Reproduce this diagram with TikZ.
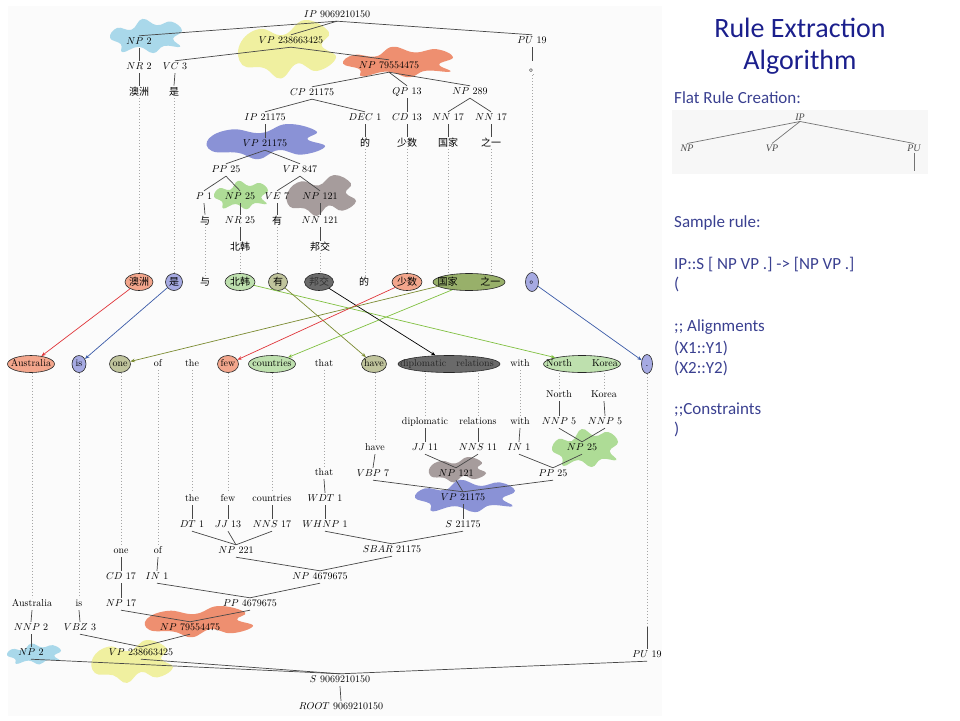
\documentclass[tikz,border=0pt]{standalone}
\usepackage{fontspec}
\newfontfamily\cjk{Noto Sans CJK SC}
\newfontfamily\calibri{Carlito}
\newfontfamily\tms{Liberation Serif}
\usetikzlibrary{arrows.meta,shapes.geometric}
\definecolor{bBlue}{HTML}{A9D8EA}
\definecolor{bYel}{HTML}{F0F0A0}
\definecolor{bOra}{HTML}{EE8F70}
\definecolor{bPur}{HTML}{8A92D6}
\definecolor{bGrn}{HTML}{AEDC96}
\definecolor{bGry}{HTML}{A69C9C}
\definecolor{fSal}{HTML}{F3A68C}
\definecolor{fBlu}{HTML}{A6AAE2}
\definecolor{fGrn}{HTML}{BEE0AE}
\definecolor{fOli}{HTML}{C0C49C}
\definecolor{fDrk}{HTML}{6A6A6A}
\definecolor{fOlg}{HTML}{98B06A}
\definecolor{aRed}{HTML}{E0353A}
\definecolor{aBlu}{HTML}{3A5AA8}
\definecolor{aGrn}{HTML}{80C040}
\definecolor{aOli}{HTML}{7A8A30}
\definecolor{ttl}{HTML}{1B1F8C}
\definecolor{txt}{HTML}{3A4090}
\newcommand\blobA[5]{\begin{scope}[shift={(#2,#3)},xscale=#4,yscale=#5]\fill[#1] plot[smooth cycle,tension=0.75] coordinates {(-1,0.1) (-0.8,-0.45) (-0.4,-0.35) (-0.1,-0.95) (0.3,-0.6) (0.7,-0.8) (1,-0.3) (0.75,0.15) (0.95,0.6) (0.5,0.55) (0.2,0.95) (-0.2,0.6) (-0.65,0.9) (-0.7,0.45)};\end{scope}}
\newcommand\blobB[5]{\begin{scope}[shift={(#2,#3)},xscale=#4,yscale=#5]\fill[#1] plot[smooth cycle,tension=0.75] coordinates {(-1,-0.2) (-0.6,-0.7) (-0.1,-0.5) (0.35,-1) (0.85,-0.6) (0.7,-0.15) (1,0.25) (0.6,0.7) (0.2,0.45) (-0.15,0.95) (-0.5,0.6) (-0.95,0.5)};\end{scope}}
\begin{document}
\begin{tikzpicture}[x=1pt,y=-1pt,
  tn/.style={inner sep=1.5pt, text height=7pt, text depth=2pt, font=\fontsize{10}{12}\selectfont},
  cw/.style={inner sep=1.5pt, text height=8pt, text depth=1.5pt, font=\cjk\fontsize{10}{12}\selectfont},
  aln/.style={ellipse, draw=black!85, line width=0.6pt, inner sep=0pt, minimum height=17pt},
  edgeL/.style={draw=black!72, line width=0.7pt},
  dotL/.style={draw=black!35, line width=0.6pt, dash pattern=on 0.6pt off 2.4pt},
  arr/.style={line width=0.7pt, -{Stealth[length=4.5pt,width=3.5pt]}},
  rt/.style={font=\calibri\fontsize{17}{20}\selectfont, text=txt, inner sep=0pt, anchor=base west},
  fr/.style={font=\tms\itshape\fontsize{10}{12}\selectfont, text=black!70, inner sep=1pt}]
\useasboundingbox (0,0) rectangle (960,720);
\fill[black!1.5] (8,6) rectangle (662,716);

% ---------- blobs ----------
\blobA{bBlue}{146}{36}{36}{18}
\blobB{bYel}{288}{50}{48}{30}
\blobA{bOra}{398}{62}{55}{16}
\blobB{bPur}{267}{142}{58}{18}
\blobA{bGrn}{241}{195}{27}{15}
\blobB{bGry}{322}{196}{34}{21}
\blobA{bGrn}{585}{448}{33}{20}
\blobB{bGry}{458}{470}{28}{13}
\blobA{bPur}{465}{496}{50}{17}
\blobB{bOra}{200}{622}{53}{16}
\blobA{bBlue}{34}{654}{27}{11}
\blobB{bYel}{133}{662}{40}{22}

% ---------- top (Chinese) tree ----------
\node[tn] (tIP) at (337,15) {$IP$ 9069210150};
\node[tn] (tNP2) at (139,42) {$NP$ 2};
\node[tn] (tVP) at (291,41) {$VP$ 238663425};
\node[tn] (tPU) at (532,41) {$PU$ 19};
\node[tn] (tNR2) at (139,67) {$NR$ 2};
\node[tn] (tVC3) at (175,67) {$VC$ 3};
\node[tn] (tNPb) at (389,66) {$NP$ 79554475};
\node[cw, anchor=base] (tDot) at (534,71) {。};
\node[tn] (tCP) at (312,93) {$CP$ 21175};
\node[tn] (tQP) at (407,92) {$QP$ 13};
\node[tn] (tNP289) at (470,92) {$NP$ 289};
\node[tn] (tIP2) at (265,118) {$IP$ 21175};
\node[tn] (tDEC) at (365,118) {$DEC$ 1};
\node[tn] (tCD) at (407,118) {$CD$ 13};
\node[tn] (tNN1) at (448,118) {$NN$ 17};
\node[tn] (tNN2) at (491,118) {$NN$ 17};
\node[cw] (wAo) at (139,92) {澳洲};
\node[cw] (wShi) at (174,92) {是};
\node[cw] (wDe) at (365,143) {的};
\node[cw] (wShao) at (407,143) {少数};
\node[cw] (wGuo) at (448,143) {国家};
\node[cw] (wZhi) at (491,143) {之一};
\node[tn] (tVP2) at (265,144) {$VP$ 21175};
\node[tn] (tPP) at (226,170) {$PP$ 25};
\node[tn] (tVP847) at (300,170) {$VP$ 847};
\node[tn] (tP1) at (204,197) {$P$ 1};
\node[tn] (tNP25) at (240,197) {$NP$ 25};
\node[tn] (tVE) at (277,197) {$VE$ 7};
\node[tn] (tNP121) at (320,197) {$NP$ 121};
\node[cw] (wYu) at (205,221) {与};
\node[tn] (tNR25) at (240,221) {$NR$ 25};
\node[cw] (wYou) at (277,221) {有};
\node[tn] (tNN121) at (320,221) {$NN$ 121};
\node[cw] (wBei) at (240,247) {北韩};
\node[cw] (wBang) at (320,247) {邦交};

\foreach \a/\b in {tIP/tNP2, tIP/tVP, tIP/tPU, tNP2/tNR2, tNR2/wAo, tVP/tVC3, tVP/tNPb, tVC3/wShi,
  tNPb/tCP, tNPb/tQP, tNPb/tNP289, tCP/tIP2, tCP/tDEC, tDEC/wDe, tQP/tCD, tCD/wShao,
  tNP289/tNN1, tNP289/tNN2, tNN1/wGuo, tNN2/wZhi, tIP2/tVP2, tVP2/tPP, tVP2/tVP847,
  tPP/tP1, tPP/tNP25, tVP847/tVE, tVP847/tNP121, tP1/wYu, tNP25/tNR25, tNR25/wBei,
  tVE/wYou, tNP121/tNN121, tNN121/wBang}
  \draw[edgeL] (\a.south) -- (\b.north);
\draw[edgeL] (tPU.south) -- (tPU.south |- tDot.north);

% ---------- alignment rows ----------
\node[cw, aln, fill=fSal, minimum width=28pt] (aAo) at (139,282) {\makebox[0pt]{澳洲}};
\node[cw, aln, fill=fBlu, minimum width=17pt] (aShi) at (174,282) {\makebox[0pt]{是}};
\node[cw] (aYu) at (205,282) {与};
\node[cw, aln, fill=fGrn, minimum width=30pt] (aBei) at (240,282) {\makebox[0pt]{北韩}};
\node[cw, aln, fill=fOli, minimum width=19pt] (aYou) at (278,282) {\makebox[0pt]{有}};
\node[cw, aln, fill=fDrk, minimum width=29pt, text=black!80] (aBang) at (319,282) {\makebox[0pt]{邦交}};
\node[cw] (aDe) at (364,282) {的};
\node[cw, aln, fill=fSal, minimum width=30pt] (aShao) at (407,282) {\makebox[0pt]{少数}};
\node[cw, aln, fill=fOlg, minimum width=72pt] (aGuo) at (469,282) {\makebox[0pt]{国家\hspace{23pt}之一}};
\node[cw, aln, fill=fBlu, minimum width=13pt, minimum height=19pt] (aDot) at (532,282) {\makebox[0pt]{\hspace{4.5pt}\raisebox{1.5pt}{。}}};

\node[tn, aln, fill=fSal, minimum width=47pt] (eAus) at (31,364) {\makebox[0pt]{Australia}};
\node[tn, aln, fill=fBlu, minimum width=14pt] (eIs) at (79,364) {\makebox[0pt]{is}};
\node[tn, aln, fill=fOli, minimum width=21pt] (eOne) at (120,364) {\makebox[0pt]{one}};
\node[tn] (eOf) at (158,364) {of};
\node[tn] (eThe) at (192,364) {the};
\node[tn, aln, fill=fSal, minimum width=21pt] (eFew) at (228,364) {\makebox[0pt]{few}};
\node[tn, aln, fill=fGrn, minimum width=47pt] (eCou) at (272,364) {\makebox[0pt]{countries}};
\node[tn] (eThat) at (324,364) {that};
\node[tn, aln, fill=fOli, minimum width=25pt] (eHave) at (374,364) {\makebox[0pt]{have}};
\node[tn, aln, fill=fDrk, minimum width=102pt, text=black!85] (eDip) at (449,364) {\makebox[0pt]{\hspace{-4pt}diplomatic\hspace{10pt}relations}};
\node[tn] (eWith) at (520,364) {with};
\node[tn, aln, fill=fGrn, minimum width=77pt] (eNK) at (582,364) {\makebox[0pt]{North\hspace{20pt}Korea}};
\node[tn, aln, fill=fBlu, minimum width=11pt, minimum height=19pt] (eDot) at (647,364) {\makebox[0pt]{.}};

% dotted: Chinese words to alignment row
\draw[dotL] (wAo.south) -- (aAo.north);
\draw[dotL] (wShi.south) -- (aShi.north);
\draw[dotL] (wYu.south) -- (aYu.north);
\draw[dotL] (wBei.south) -- (aBei.north);
\draw[dotL] (wYou.south) -- (wYou.south |- aYou.north);
\draw[dotL] (wBang.south) -- (wBang.south |- aBang.north);
\draw[dotL] (wDe.south) -- (wDe.south |- aDe.north);
\draw[dotL] (wShao.south) -- (aShao.north);
\draw[dotL] (wGuo.south) -- (wGuo.south |- aGuo.north);
\draw[dotL] (wZhi.south) -- (wZhi.south |- aGuo.north);
\draw[dotL] (tDot.south) -- (tDot.south -| aDot.north) -- (aDot.north);

% alignment arrows
\draw[arr, aRed] (aAo) -- (eAus);
\draw[arr, aBlu] (aShi) -- (eIs);
\draw[arr, aGrn] (aBei) -- (eNK);
\draw[arr, aOli] (aYou) -- (eHave);
\draw[arr, black] (aBang) -- (eDip);
\draw[arr, aRed] (aShao) -- (eFew);
\draw[arr, aOli] (aGuo.188) -- (eOne);
\draw[arr, aGrn] (aGuo.205) -- (eCou);
\draw[arr, aBlu] (aDot) -- (eDot);

% ---------- bottom (English) tree ----------
\node[tn] (bNorth) at (559,395) {North};
\node[tn] (bKorea) at (604,395) {Korea};
\node[tn] (bDip) at (425,422) {diplomatic};
\node[tn] (bRel) at (478,422) {relations};
\node[tn] (bWith) at (520,422) {with};
\node[tn] (bNNPa) at (559,422) {$NNP$ 5};
\node[tn] (bNNPb) at (605,422) {$NNP$ 5};
\node[tn] (bHave) at (375,448) {have};
\node[tn] (bJJ11) at (425,448) {$JJ$ 11};
\node[tn] (bNNS11) at (478,448) {$NNS$ 11};
\node[tn] (bIN1) at (519,448) {$IN$ 1};
\node[tn] (bNP25) at (582,448) {$NP$ 25};
\node[tn] (bThat) at (324,473) {that};
\node[tn] (bVBP) at (373,474) {$VBP$ 7};
\node[tn] (bNP121) at (456,474) {$NP$ 121};
\node[tn] (bPP25) at (553,474) {$PP$ 25};
\node[tn] (bThe) at (192,499) {the};
\node[tn] (bFew) at (228,499) {few};
\node[tn] (bCou) at (272,499) {countries};
\node[tn] (bWDT) at (325,499) {$WDT$ 1};
\node[tn] (bVP) at (463,498) {$VP$ 21175};
\node[tn] (bDT) at (192,525) {$DT$ 1};
\node[tn] (bJJ13) at (228,525) {$JJ$ 13};
\node[tn] (bNNS17) at (272,525) {$NNS$ 17};
\node[tn] (bWHNP) at (325,525) {$WHNP$ 1};
\node[tn] (bS) at (463,525) {$S$ 21175};
\node[tn] (bOne) at (121,551) {one};
\node[tn] (bOf) at (158,551) {of};
\node[tn] (bNP221) at (236,551) {$NP$ 221};
\node[tn] (bSBAR) at (392,550) {$SBAR$ 21175};
\node[tn] (bCD) at (121,577) {$CD$ 17};
\node[tn] (bIN) at (157,577) {$IN$ 1};
\node[tn] (bNP467) at (320,577) {$NP$ 4679675};
\node[tn] (bAus) at (32,604) {Australia};
\node[tn] (bIs) at (79,604) {is};
\node[tn] (bNP17) at (121,604) {$NP$ 17};
\node[tn] (bPP467) at (250,604) {$PP$ 4679675};
\node[tn] (bNNP2) at (31,628) {$NNP$ 2};
\node[tn] (bVBZ) at (80,628) {$VBZ$ 3};
\node[tn] (bNP795) at (190,628) {$NP$ 79554475};
\node[tn] (bNP2) at (31,653) {$NP$ 2};
\node[tn] (bVP238) at (141,653) {$VP$ 238663425};
\node[tn] (bPU) at (647,655) {$PU$ 19};
\node[tn] (bS9) at (340,680) {$S$ 9069210150};
\node[tn] (bROOT) at (341,707) {$ROOT$ 9069210150};

\foreach \a/\b in {bNorth/bNNPa, bKorea/bNNPb, bNNPa/bNP25, bNNPb/bNP25,
  bDip/bJJ11, bRel/bNNS11, bWith/bIN1, bHave/bVBP, bJJ11/bNP121, bNNS11/bNP121,
  bIN1/bPP25, bNP25/bPP25, bVBP/bVP, bNP121/bVP, bPP25/bVP, bVP/bS,
  bThat/bWDT, bWDT/bWHNP, bWHNP/bSBAR, bS/bSBAR,
  bThe/bDT, bFew/bJJ13, bCou/bNNS17, bDT/bNP221, bJJ13/bNP221, bNNS17/bNP221,
  bNP221/bNP467, bSBAR/bNP467, bOne/bCD, bCD/bNP17, bOf/bIN, bIN/bPP467, bNP467/bPP467,
  bNP17/bNP795, bPP467/bNP795, bAus/bNNP2, bNNP2/bNP2, bIs/bVBZ, bVBZ/bVP238, bNP795/bVP238,
  bNP2/bS9, bVP238/bS9, bPU/bS9, bS9/bROOT}
  \draw[edgeL] (\a.south) -- (\b.north);

% dotted: English row down to leaves
\foreach \e/\l in {eAus/bAus, eIs/bIs, eOne/bOne, eOf/bOf, eThe/bThe, eFew/bFew, eCou/bCou,
  eThat/bThat, eHave/bHave, eDip/bDip, eDip/bRel, eWith/bWith, eNK/bNorth, eNK/bKorea}
  \draw[dotL] (\l.north |- \e.south) -- (\l.north);
\coordinate (cPU) at (647,627);
\draw[dotL] (eDot.south) -- (cPU);
\draw[edgeL] (cPU) -- (cPU |- bPU.north);

% ---------- right panel ----------
\node[font=\calibri\fontsize{28}{32}\selectfont, text=ttl, inner sep=0pt, anchor=base] (title1) at (800,37) {Rule Extraction};
\node[font=\calibri\fontsize{28}{32}\selectfont, text=ttl, inner sep=0pt, anchor=base] (title2) at (800,69) {Algorithm};
\node[rt] (r1) at (674,103) {Flat Rule Creation:};
\fill[black!3] (672,110) rectangle (928,174);
\node[fr] (fIP) at (800,117) {IP};
\node[fr] (fNP) at (687,148) {NP};
\node[fr] (fVP) at (772,148) {VP};
\node[fr] (fPU) at (914,148) {PU};
\coordinate (fEnd) at (914,171);
\draw[edgeL, draw=black!55] (fIP.south) -- (fNP.north);
\draw[edgeL, draw=black!55] (fIP.south) -- (fVP.north);
\draw[edgeL, draw=black!55] (fIP.south) -- (fPU.north);
\draw[edgeL, draw=black!55] (fPU.south) -- (fEnd);
\node[rt] (r2) at (674,227) {Sample rule:};
\node[rt] (r3) at (674,269) {IP::S [ NP VP .] -> [NP VP .]};
\node[rt] (r4) at (674,289) {(};
\node[rt] (r5) at (674,331) {;; Alignments};
\node[rt] (r6) at (674,353) {(X1::Y1)};
\node[rt] (r7) at (674,373) {(X2::Y2)};
\node[rt] (r8) at (674,414) {;;Constraints};
\node[rt] (r9) at (674,434) {)};
\end{tikzpicture}
\end{document}
